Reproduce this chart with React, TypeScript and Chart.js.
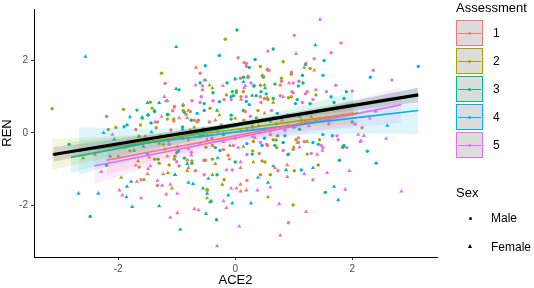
import React, { useEffect, useRef } from "react";
import { Chart, registerables } from "chart.js";
Chart.register(...registerables);

const FONT = '"Liberation Sans", Arial, Helvetica, sans-serif';

const assessments = ["1", "2", "3", "4", "5"];
const groupColors = ["#F8766D", "#A3A500", "#00BF7D", "#00B0F6", "#E76BF3"];
const sexLabels = ["Male", "Female"];
const xTicks = [-2, 0, 2];
const yTicks = [-2, 0, 2];
const xTitle = "ACE2";
const yTitle = "REN";

type P = [number, number];

const a1Male: P[] = [[-2.2,0.45],[-1.2,1.37],[-1.7,0.09],[-1.33,0.3],[-1.07,0.61],[-1.05,0.33],[-1.1,0.08],[0.05,2.08],[0.19,1.84],[0.56,1.73],[-0.6,1.65],[0.79,1.43],[1.09,1.43],[-0.56,1.19],[0.22,1.57],[0.43,1.0],[0.77,1.03],[1.23,1.14],[-1.04,0.73],[-0.7,0.35],[-0.19,0.92],[0.17,0.59],[0.15,0.35],[-0.55,0.11],[-0.77,0.08],[-0.44,0.3],[0.55,-0.35],[1.08,-0.14],[1.18,-0.24],[-0.2,-0.46],[-0.12,-0.62],[0.41,-0.57],[0.73,-1.05],[0.99,-0.46],[-0.51,-0.76],[0.2,-1.32],[0.91,-2.49],[2.17,0.14],[1.33,-1.3],[-1.61,-1.3],[-1.33,-1.46],[-0.68,-1.05],[-0.96,-0.92],[-0.82,-0.76],[-0.84,0.51],[-0.65,0.3],[0.19,1.92],[0.55,1.76],[0.77,1.32],[0.99,1.11],[-0.53,1.46],[0.09,1.51],[0.5,0.95],[0.1,1.0],[-0.3,0.05],[0.3,0.15],[0.6,-0.05],[-0.8,-0.2],[1.2,0.3],[0.0,-0.15],[-1.3,-0.3],[0.9,0.2]];
const a1Female: P[] = [[-1.04,0.71],[-1.54,-0.1],[-0.67,1.81],[0.15,1.95],[1.04,2.19],[1.35,1.73],[0.92,1.38],[0.1,0.92],[-0.89,0.79],[-0.82,0.41],[-0.34,0.35],[0.5,0.54],[-0.48,-0.08],[1.06,-0.27],[0.34,-0.14],[1.49,-0.49],[-0.48,-0.19],[-0.1,-0.73],[0.09,-0.97],[0.68,-0.97],[0.89,-0.89],[0.09,-1.43],[0.89,-1.22],[-0.07,-1.54],[0.19,-1.59],[-0.15,-2.08],[-0.31,-3.14],[-0.99,-2.22],[-0.7,-2.11],[0.09,-1.62],[-1.68,-1.35],[-1.98,-1.59],[-1.5,-1.14],[-1.23,-1.14],[-0.8,-0.97],[-1.47,-0.68],[-2.0,-0.65],[-1.16,-0.65],[-0.99,-0.38],[-1.16,0.89],[-0.96,0.41],[-0.8,0.62],[1.18,1.81],[-0.6,-0.3],[0.2,0.1],[0.8,0.35],[-1.9,-0.4],[-2.4,-0.6],[1.3,0.45],[-0.2,-0.25]];

const a2Male: P[] = [[-3.13,0.67],[-1.26,1.65],[-1.45,0.85],[-1.42,0.68],[-1.91,0.65],[-2.04,0.15],[-2.17,0.09],[-1.35,0.14],[-1.05,0.38],[-0.17,2.59],[0.82,1.97],[1.28,1.78],[0.43,1.84],[0.79,1.51],[0.96,1.62],[0.43,1.32],[0.14,1.14],[0.91,0.97],[1.38,1.05],[-0.77,0.59],[-0.63,0.35],[-0.43,0.68],[0.39,0.62],[0.36,0.41],[1.13,0.35],[-0.24,0.22],[1.04,-0.19],[-0.39,-0.35],[0.31,-0.24],[0.71,-0.41],[0.65,-0.19],[-0.39,-0.73],[0.46,-0.78],[0.51,-0.81],[1.01,-1.05],[1.23,-0.59],[-0.19,-1.3],[0.43,-1.16],[0.6,-1.16],[0.99,-2.0],[1.44,-0.19],[1.42,-0.89],[-0.48,-1.57],[-1.64,-0.95],[-1.38,-0.73],[-1.3,-0.84],[-1.04,-0.73],[-1.13,-0.89],[-0.74,-0.78],[-1.03,-0.65],[-1.28,-0.08],[-1.64,-0.1],[-1.23,-0.32],[0.96,1.0],[-0.15,1.05],[0.02,1.11],[0.56,0.92],[0.48,1.57],[-0.89,0.62],[-1.16,0.38],[-1.62,0.22],[-0.9,-0.15],[0.1,0.05],[0.7,0.25],[-0.5,-0.4],[1.6,0.4],[-1.8,-0.5],[0.3,-0.5]];
const a2Female: P[] = [[-1.65,-0.1],[0.46,1.59],[-0.44,1.32],[-0.39,1.24],[0.5,1.32],[0.55,0.97],[0.65,0.84],[-0.27,0.49],[0.72,-0.08],[1.23,-0.24],[-0.09,-0.35],[0.14,-0.38],[-0.34,-0.86],[0.31,-0.81],[-0.39,-1.16],[-0.22,-1.43],[0.56,-1.78],[-0.48,-1.59],[-0.48,-1.81],[-1.95,-1.24],[-1.56,-1.3],[-1.08,-1.54],[-1.66,-0.78],[-1.15,-1.11],[-0.82,-1.05],[-0.7,0.15],[0.4,0.2],[1.0,-0.4],[-1.2,-0.45],[-2.6,-0.7],[0.0,0.4]];

const a3Male: P[] = [[-2.84,-0.32],[-0.96,1.19],[-1.68,0.63],[-1.59,0.41],[-1.85,0.22],[-1.15,0.5],[0.03,2.85],[0.65,2.32],[0.34,2.03],[1.52,2.0],[1.15,1.59],[0.68,1.35],[-0.6,1.38],[-0.14,1.38],[0.32,1.3],[0.02,1.16],[1.06,0.92],[1.28,0.81],[1.69,0.84],[-0.53,0.81],[-0.87,0.57],[-0.05,1.14],[0.14,0.62],[-0.07,0.49],[-0.07,0.38],[0.89,0.49],[-0.9,0.16],[0.6,0.32],[1.38,0.32],[0.68,-0.35],[1.9,1.14],[1.85,-0.38],[-0.55,-0.08],[-0.34,-0.41],[0.82,-0.27],[-0.53,-0.76],[0.0,-0.81],[0.29,-0.59],[-0.31,-1.16],[-0.32,-2.41],[1.86,-0.35],[1.78,-0.76],[1.54,-1.65],[-2.48,-2.32],[-1.32,-0.73],[-0.87,-0.7],[-0.74,-0.84],[-1.38,0.59],[-1.49,0.49],[-1.16,0.51],[-0.89,0.76],[-0.75,0.35],[-1.44,0.27],[0.14,1.54],[0.22,1.54],[-0.38,1.11],[-0.03,1.03],[0.44,1.14],[0.65,0.95],[1.16,1.38],[-0.2,-0.05],[0.5,0.1],[1.1,0.1],[-1.0,-0.55],[-2.2,-0.9],[0.9,-0.6]];
const a3Female: P[] = [[-1.01,2.38],[-1.18,0.88],[-1.5,0.83],[-1.3,0.83],[-1.49,0.5],[-1.38,0.61],[-2.07,-0.18],[1.2,1.89],[0.51,1.24],[0.29,1.03],[-0.31,0.62],[0.87,-1.03],[0.56,-1.38],[-0.55,-1.54],[-0.41,-1.89],[-0.5,-2.24],[-0.43,-1.92],[-1.78,-1.35],[-1.85,-1.49],[-1.86,-1.78],[-1.76,-2.05],[-1.3,-2.03],[-1.73,-0.49],[-0.82,-0.86],[-1.03,-1.16],[-1.59,0.43],[0.3,0.3],[-0.4,0.1],[1.4,0.6],[-1.5,-0.2],[0.7,-0.2]];

const a4Male: P[] = [[-1.9,0.17],[-0.27,2.14],[-0.51,1.86],[0.24,1.81],[1.5,1.59],[0.48,1.54],[0.0,1.49],[0.36,1.03],[0.19,0.87],[1.03,0.81],[1.64,1.0],[1.86,0.95],[-0.53,0.62],[-0.07,1.0],[0.24,0.78],[0.72,0.54],[0.65,0.41],[-0.32,0.11],[-0.65,0.54],[1.5,-0.05],[0.85,-0.08],[1.33,-0.27],[3.13,1.84],[2.31,1.54],[2.26,-0.51],[2.41,-0.84],[1.66,-0.08],[1.42,-0.32],[-0.26,-0.49],[0.2,-0.3],[0.46,-0.35],[1.13,-1.03],[-1.03,-0.16],[-0.97,-0.51],[1.08,1.3],[-0.27,0.86],[0.53,1.08],[0.32,1.3],[0.1,0.25],[-0.6,-0.1],[1.1,0.45],[-1.5,-0.6],[0.5,-0.15],[2.0,0.3]];
const a4Female: P[] = [[-2.56,2.11],[-1.01,1.22],[-1.8,0.44],[-2.25,0.0],[-1.43,0.02],[1.37,2.43],[-0.51,1.46],[-0.21,-0.03],[0.65,-0.92],[-0.46,-1.27],[0.39,-1.24],[-0.12,-1.73],[-0.05,-1.95],[0.27,-1.95],[-0.94,-2.68],[1.33,-0.97],[1.69,-1.49],[1.76,-1.86],[-2.68,-1.68],[-2.34,-1.68],[-0.72,-1.41],[-0.8,-1.38],[-1.57,-0.38],[-2.14,-0.65],[-0.48,-1.68],[0.14,1.41],[-0.9,0.1],[0.4,0.0],[1.0,0.15],[-0.3,-0.7],[2.6,0.2]];

const a5Male: P[] = [[1.01,2.7],[1.81,2.49],[1.64,2.22],[1.35,2.05],[1.72,1.32],[0.96,1.68],[0.99,1.38],[0.27,1.38],[0.44,0.84],[0.97,1.14],[1.15,0.84],[1.38,1.19],[1.56,1.14],[1.33,0.92],[-0.6,0.84],[-0.38,0.89],[0.62,0.62],[0.26,0.46],[0.29,0.19],[0.85,0.08],[1.03,0.19],[1.5,-0.41],[0.43,-0.27],[1.76,-0.19],[2.36,1.73],[2.68,1.46],[2.0,1.16],[2.05,0.24],[1.91,-0.41],[1.74,-0.08],[2.14,-0.24],[1.47,-0.35],[1.84,-0.41],[1.3,-0.57],[0.73,-0.08],[1.08,-0.27],[-0.03,-0.35],[0.54,-0.32],[0.82,-0.49],[-0.53,-1.16],[-0.05,-1.03],[-1.13,-0.32],[-0.75,-0.54],[0.58,1.73],[1.21,1.92],[1.2,1.08],[-0.56,1.3],[-0.58,1.0],[-0.07,0.92],[0.19,1.0],[-0.74,0.89],[-0.4,-0.15],[0.6,0.05],[-1.0,-0.8],[0.2,-0.6],[1.6,0.25],[2.4,0.6]];
const a5Female: P[] = [[1.45,3.14],[0.56,2.26],[-1.21,1.0],[-1.37,0.3],[-2.1,-0.05],[-1.26,0.45],[-1.14,-0.23],[-0.68,1.32],[-0.21,1.3],[0.17,1.3],[0.82,1.0],[0.55,0.35],[-0.02,0.19],[1.26,0.19],[1.83,-0.4],[2.1,-0.05],[2.2,-0.08],[2.15,-0.22],[2.58,-0.16],[1.95,-1.05],[1.88,-1.57],[2.84,-1.62],[1.4,-0.6],[1.57,-1.11],[0.05,-0.41],[0.92,-0.59],[0.09,-0.81],[1.18,-1.14],[-0.15,-1.03],[0.6,-1.51],[0.02,-1.54],[0.38,-1.59],[-0.2,-1.89],[0.75,-1.97],[1.21,-2.19],[0.07,-2.59],[0.77,-2.84],[-0.63,-2.14],[-0.99,-1.68],[-2.29,-1.08],[-1.33,-1.32],[-1.25,-1.46],[-1.93,-1.73],[-1.61,-1.81],[-1.11,-2.35],[-1.18,-1.7],[-1.11,-1.43],[-1.49,-1.0],[-1.45,-0.92],[-1.03,-1.16],[-0.75,-0.62],[0.15,1.24],[-0.8,-0.45],[0.3,-0.1],[1.1,-0.4],[-1.7,-0.9],[2.3,0.4]];

const maleSets = [a1Male, a2Male, a3Male, a4Male, a5Male];
const femaleSets = [a1Female, a2Female, a3Female, a4Female, a5Female];

// Fitted lines (per assessment) with confidence ribbons
const fitX: number[][] = [
  [-2.2, -1.1, 0, 1.0, 2.02],
  [-3.13, -1.5, 0, 1.1, 2.1],
  [-2.81, -1.4, 0, 1.0, 2.02],
  [-2.67, -1.3, 0, 1.5, 3.13],
  [-2.41, -1.2, 0, 1.4, 2.84],
];
const fitY: number[][] = [
  [-0.76, -0.42, -0.08, 0.23, 0.55],
  [-0.6, -0.24, 0.09, 0.33, 0.55],
  [-0.68, -0.25, 0.18, 0.49, 0.8],
  [-0.5, -0.24, 0.02, 0.31, 0.62],
  [-0.92, -0.53, -0.14, 0.31, 0.78],
];
const fitHi: number[][] = [
  [-0.36, -0.2, 0.05, 0.43, 0.93],
  [-0.18, -0.04, 0.21, 0.51, 0.85],
  [-0.24, -0.03, 0.31, 0.69, 1.13],
  [0.15, 0.11, 0.22, 0.64, 1.27],
  [-0.42, -0.25, 0.02, 0.57, 1.28],
];
const fitLo: number[][] = [
  [-1.16, -0.64, -0.21, 0.03, 0.17],
  [-1.02, -0.44, -0.03, 0.15, 0.25],
  [-1.12, -0.47, 0.05, 0.29, 0.47],
  [-1.15, -0.59, -0.18, -0.02, -0.03],
  [-1.42, -0.81, -0.3, 0.05, 0.28],
];
// Overall fit
const allX = [-3.11, -1.5, 0, 1.5, 3.13];
const allY = [-0.6, -0.17, 0.22, 0.62, 1.05];
const allHi = [-0.4, -0.07, 0.28, 0.72, 1.25];
const allLo = [-0.8, -0.27, 0.16, 0.52, 0.85];

function rgba(hex: string, a: number) {
  const n = parseInt(hex.slice(1), 16);
  return `rgba(${(n >> 16) & 255},${(n >> 8) & 255},${n & 255},${a})`;
}
const zip = (xs: number[], ys: number[]) => xs.map((x, i) => ({ x, y: ys[i] }));

function buildDatasets() {
  const ds: any[] = [];
  const lineBase = { type: "line", pointRadius: 0, tension: 0, fill: false };
  ds.push({ ...lineBase, data: zip(allX, allY), borderColor: "#000", borderWidth: 3.2, order: 0 });
  ds.push({ ...lineBase, data: zip(allX, allHi), borderColor: "rgba(0,0,0,0)", borderWidth: 0.01, order: 1 });
  ds.push({ ...lineBase, data: zip(allX, allLo), borderColor: "rgba(0,0,0,0)", borderWidth: 0.01, fill: "-1", backgroundColor: "rgba(150,150,150,0.35)", order: 1 });
  for (let g = 0; g < assessments.length; g++) {
    ds.push({ ...lineBase, data: zip(fitX[g], fitY[g]), borderColor: groupColors[g], borderWidth: 1.6, order: 2 });
    ds.push({ ...lineBase, data: zip(fitX[g], fitHi[g]), borderColor: "rgba(0,0,0,0)", borderWidth: 0.01, order: 3 });
    ds.push({ ...lineBase, data: zip(fitX[g], fitLo[g]), borderColor: "rgba(0,0,0,0)", borderWidth: 0.01, fill: "-1", backgroundColor: rgba(groupColors[g], 0.13), order: 3 });
  }
  for (let g = 0; g < assessments.length; g++) {
    ds.push({
      type: "scatter",
      data: maleSets[g].map(([x, y]) => ({ x, y })),
      pointStyle: "circle",
      pointRadius: 1.7,
      backgroundColor: groupColors[g],
      borderColor: groupColors[g],
      borderWidth: 0,
      order: 4,
    });
    ds.push({
      type: "scatter",
      data: femaleSets[g].map(([x, y]) => ({ x, y })),
      pointStyle: "triangle",
      pointRadius: 2.4,
      backgroundColor: groupColors[g],
      borderColor: groupColors[g],
      borderWidth: 0,
      order: 4,
    });
  }
  return ds;
}

function Legend() {
  const txt: React.CSSProperties = { position: "absolute", whiteSpace: "nowrap", color: "#000" };
  return (
    <>
      <div style={{ ...txt, left: 456, top: 0, fontSize: 13, lineHeight: "15px" }}>Assessment</div>
      {assessments.map((a, i) => (
        <React.Fragment key={a}>
          <div
            style={{
              position: "absolute",
              left: 456,
              top: 20 + i * 28,
              width: 27,
              height: 26,
              boxSizing: "border-box",
              border: `1.5px solid ${groupColors[i]}`,
              background: "#DCDCDC",
            }}
          >
            <div style={{ position: "absolute", left: 1, right: 1, top: 11.5, height: 1.5, background: groupColors[i] }} />
            <div
              style={{
                position: "absolute",
                left: 10.5,
                top: 10.5,
                width: 3.5,
                height: 3.5,
                borderRadius: "50%",
                background: groupColors[i],
              }}
            />
          </div>
          <div style={{ ...txt, left: 493, top: 20 + i * 28, height: 26, lineHeight: "26px", fontSize: 12 }}>{a}</div>
        </React.Fragment>
      ))}
      <div style={{ ...txt, left: 456, top: 185, fontSize: 13, lineHeight: "15px" }}>Sex</div>
      <div style={{ position: "absolute", left: 468.5, top: 216.5, width: 3, height: 3, borderRadius: "50%", background: "#000" }} />
      <div style={{ ...txt, left: 491, top: 211, fontSize: 12, lineHeight: "15px" }}>{sexLabels[0]}</div>
      <div
        style={{
          position: "absolute",
          left: 467.5,
          top: 244,
          width: 0,
          height: 0,
          borderLeft: "2.5px solid transparent",
          borderRight: "2.5px solid transparent",
          borderBottom: "4px solid #000",
        }}
      />
      <div style={{ ...txt, left: 491, top: 239.5, fontSize: 12, lineHeight: "15px" }}>{sexLabels[1]}</div>
    </>
  );
}

export default function App() {
  const ref = useRef<HTMLCanvasElement>(null);
  useEffect(() => {
    if (!ref.current) return;
    const chart = new Chart(ref.current, {
      type: "scatter",
      data: { datasets: buildDatasets() },
      options: {
        responsive: false,
        animation: false,
        events: [],
        layout: { padding: { left: 0, top: 3, right: 97, bottom: 0 } },
        plugins: { legend: { display: false }, tooltip: { enabled: false } },
        scales: {
          x: {
            type: "linear",
            min: -3.44,
            max: 3.45,
            afterBuildTicks: (s: any) => {
              s.ticks = xTicks.map((v) => ({ value: v }));
            },
            afterFit: (s: any) => {
              s.height = 31;
            },
            grid: { drawOnChartArea: false, drawTicks: true, tickLength: 3, tickColor: "#333", color: "#333" },
            border: { display: true, color: "#000", width: 1 },
            ticks: { color: "#4D4D4D", font: { size: 10, family: FONT }, padding: 3, maxRotation: 0 },
            title: { display: true, text: xTitle, color: "#000", font: { size: 13, family: FONT }, padding: 0 },
          },
          y: {
            type: "linear",
            min: -3.44,
            max: 3.43,
            afterBuildTicks: (s: any) => {
              s.ticks = yTicks.map((v) => ({ value: v }));
            },
            afterFit: (s: any) => {
              s.width = 34;
            },
            grid: { drawOnChartArea: false, drawTicks: true, tickLength: 3, tickColor: "#333", color: "#333" },
            border: { display: true, color: "#000", width: 1 },
            ticks: { color: "#4D4D4D", font: { size: 10, family: FONT }, padding: 3 },
            title: { display: true, text: yTitle, color: "#000", font: { size: 13, family: FONT }, padding: 0 },
          },
        },
      } as any,
    });
    return () => chart.destroy();
  }, []);
  return (
    <div style={{ position: "fixed", left: 0, top: 0, width: 534, height: 288, background: "#fff", fontFamily: FONT, overflow: "hidden" }}>
      <canvas ref={ref} width={534} height={288} style={{ position: "absolute", left: 0, top: 0, width: 534, height: 288 }} />
      <Legend />
    </div>
  );
}
